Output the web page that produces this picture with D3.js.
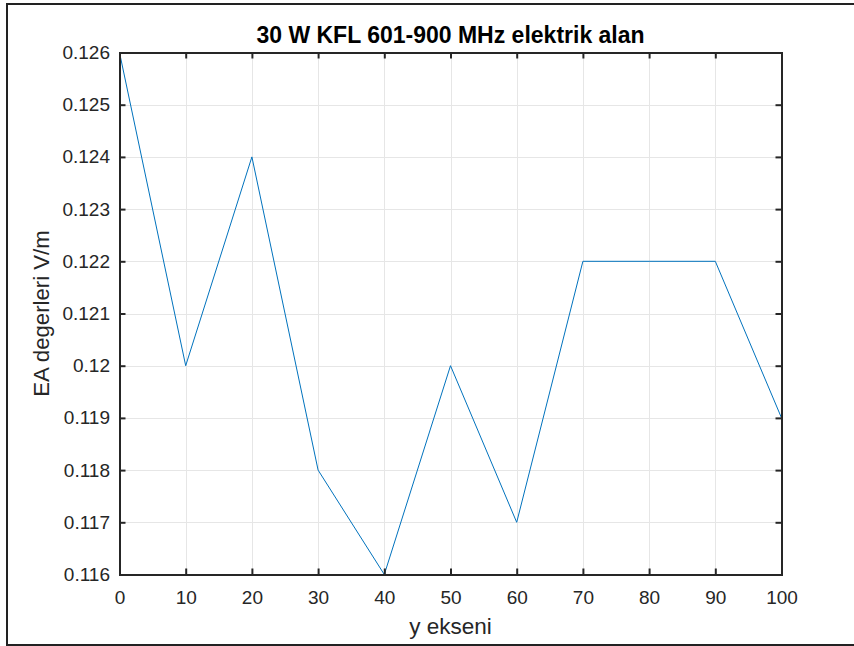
<!DOCTYPE html>
<html>
<head>
<meta charset="utf-8">
<script src="https://cdn.jsdelivr.net/npm/d3@7"></script>
<style>
  html, body { margin: 0; padding: 0; background: #fff; }
  svg { display: block; font-family: "Liberation Sans", Arial, sans-serif; }
</style>
</head>
<body>
<div id="chart"></div>
<script>
// Data
const xValues = [0, 10, 20, 30, 40, 50, 60, 70, 80, 90, 100];
const eaValues = [0.126, 0.120, 0.124, 0.118, 0.116, 0.120, 0.117, 0.122, 0.122, 0.122, 0.119];
const xTicks = [0, 10, 20, 30, 40, 50, 60, 70, 80, 90, 100];
const yTicks = [0.116, 0.117, 0.118, 0.119, 0.12, 0.121, 0.122, 0.123, 0.124, 0.125, 0.126];

const W = 854, H = 646;
const plot = { left: 119.5, top: 52.5, right: 781.5, bottom: 574.5 };
const ink = '#262626';

const svg = d3.select('#chart').append('svg')
  .attr('width', W)
  .attr('height', H);

// Figure frame
svg.append('rect')
  .attr('x', 7).attr('y', 4)
  .attr('width', W + 10).attr('height', 641)
  .attr('fill', '#fff')
  .attr('stroke', '#222')
  .attr('stroke-width', 2);

const x = d3.scaleLinear().domain([0, 100]).range([plot.left, plot.right]);
const y = d3.scaleLinear().domain([0.116, 0.126]).range([plot.bottom, plot.top]);

// Grid
const grid = svg.append('g').attr('stroke', '#e6e6e6').attr('stroke-width', 1);
grid.selectAll('line.gx')
  .data(xTicks.slice(1, -1))
  .join('line')
  .attr('x1', d => Math.round(x(d)) + 0.5).attr('x2', d => Math.round(x(d)) + 0.5)
  .attr('y1', plot.top).attr('y2', plot.bottom);
grid.selectAll('line.gy')
  .data(yTicks.slice(1, -1))
  .join('line')
  .attr('y1', d => Math.round(y(d)) + 0.5).attr('y2', d => Math.round(y(d)) + 0.5)
  .attr('x1', plot.left).attr('x2', plot.right);

// Series
const line = d3.line()
  .x((d, i) => x(xValues[i]))
  .y(d => y(d));

svg.append('path')
  .datum(eaValues)
  .attr('d', line)
  .attr('fill', 'none')
  .attr('stroke', '#0072BD')
  .attr('stroke-width', 1);

// Axes (ticks point inward, mirrored on top/right)
const tickLen = 6;
const axisFont = 19;

const xAxis = d3.axisBottom(x).tickValues(xTicks).tickSize(-tickLen).tickPadding(16.5)
  .tickFormat(d3.format('d'));
const yAxis = d3.axisLeft(y).tickValues(yTicks).tickSize(-tickLen).tickPadding(9.5)
  .tickFormat(d => String(+d.toFixed(3)));

const gx = svg.append('g')
  .attr('transform', `translate(0,${plot.bottom})`)
  .call(xAxis);
const gy = svg.append('g')
  .attr('transform', `translate(${plot.left},0)`)
  .call(yAxis);
const gxTop = svg.append('g')
  .attr('transform', `translate(0,${plot.top})`)
  .call(d3.axisTop(x).tickValues(xTicks).tickSize(-tickLen).tickFormat(''));
const gyRight = svg.append('g')
  .attr('transform', `translate(${plot.right},0)`)
  .call(d3.axisRight(y).tickValues(yTicks).tickSize(-tickLen).tickFormat(''));

[gx, gy, gxTop, gyRight].forEach(g => {
  g.select('.domain').attr('stroke', ink).attr('stroke-width', 2);
  g.selectAll('.tick line').attr('stroke', ink).attr('stroke-width', 2);
  g.selectAll('.tick text')
    .attr('fill', ink)
    .attr('font-size', axisFont)
    .attr('font-family', '"Liberation Sans", Arial, sans-serif');
});

// Title and labels
svg.append('text')
  .attr('x', (plot.left + plot.right) / 2)
  .attr('y', 43)
  .attr('text-anchor', 'middle')
  .attr('font-size', 23)
  .attr('font-weight', 'bold')
  .attr('fill', '#000')
  .text('30 W KFL 601-900 MHz elektrik alan');

svg.append('text')
  .attr('x', (plot.left + plot.right) / 2)
  .attr('y', 634)
  .attr('text-anchor', 'middle')
  .attr('font-size', 22.5)
  .attr('fill', ink)
  .text('y ekseni');

svg.append('text')
  .attr('transform', `translate(49,${(plot.top + plot.bottom) / 2}) rotate(-90)`)
  .attr('text-anchor', 'middle')
  .attr('font-size', 22.2)
  .attr('fill', ink)
  .text('EA degerleri V/m');
</script>
</body>
</html>
